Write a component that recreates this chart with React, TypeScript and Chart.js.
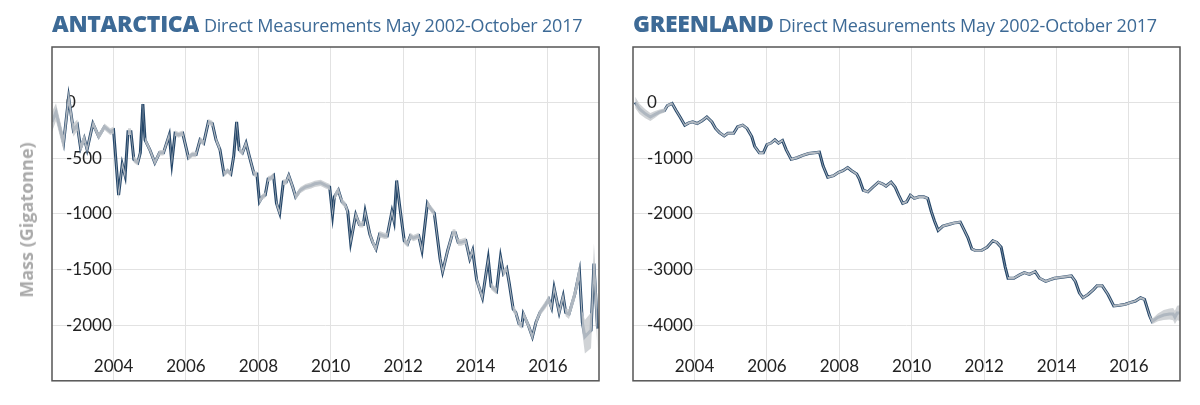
import React, { useEffect, useRef } from "react";
import { Chart, registerables } from "chart.js";
Chart.register(...registerables);

const antYears = [2002.30,2002.41,2002.62,2002.76,2002.89,2003.0,2003.09,2003.19,2003.27,2003.43,2003.59,2003.75,2003.91,2004.0,2004.14,2004.24,2004.32,2004.40,2004.48,2004.56,2004.67,2004.74,2004.81,2004.87,2005.0,2005.14,2005.27,2005.38,2005.54,2005.61,2005.70,2005.80,2005.91,2006.07,2006.17,2006.28,2006.39,2006.49,2006.62,2006.73,2006.83,2006.94,2007.05,2007.15,2007.24,2007.32,2007.40,2007.47,2007.56,2007.66,2007.75,2007.88,2007.96,2008.03,2008.11,2008.19,2008.27,2008.34,2008.42,2008.50,2008.59,2008.69,2008.77,2008.84,2008.95,2009.03,2009.16,2009.30,2009.46,2009.56,2009.72,2009.86,2009.97,2010.05,2010.10,2010.21,2010.31,2010.40,2010.47,2010.55,2010.69,2010.79,2010.90,2010.95,2011.08,2011.16,2011.25,2011.35,2011.48,2011.56,2011.69,2011.75,2011.82,2011.90,2012.03,2012.12,2012.20,2012.28,2012.43,2012.52,2012.67,2012.75,2012.86,2012.94,2013.02,2013.09,2013.23,2013.37,2013.44,2013.52,2013.60,2013.73,2013.84,2013.92,2014.03,2014.19,2014.35,2014.43,2014.58,2014.69,2014.77,2014.86,2014.93,2015.04,2015.11,2015.20,2015.28,2015.32,2015.46,2015.57,2015.67,2015.78,2015.94,2016.02,2016.10,2016.17,2016.31,2016.42,2016.49,2016.58,2016.74,2016.87,2016.95,2017.02,2017.19,2017.27,2017.37];
const antMass = [-175,-88,-365,44,-249,-205,-409,-322,-424,-190,-307,-219,-263,-249,-833,-556,-658,-263,-263,-512,-541,-453,-15,-336,-424,-541,-453,-453,-292,-541,-278,-292,-278,-497,-468,-468,-336,-366,-175,-190,-336,-424,-643,-614,-643,-482,-175,-424,-453,-366,-482,-643,-643,-892,-848,-833,-687,-681,-658,-906,-994,-716,-716,-658,-760,-848,-789,-760,-746,-731,-722,-746,-760,-1009,-848,-789,-892,-921,-980,-1257,-1009,-1096,-1096,-980,-1184,-1257,-1316,-1184,-1199,-1199,-980,-1067,-702,-921,-1243,-1272,-1199,-1219,-1199,-1330,-906,-950,-994,-1199,-1404,-1520,-1330,-1170,-1170,-1257,-1257,-1243,-1404,-1330,-1594,-1754,-1404,-1652,-1696,-1389,-1535,-1491,-1623,-1857,-1886,-1988,-2003,-1901,-2003,-2105,-1974,-1886,-1813,-1769,-1842,-1667,-1886,-1740,-1886,-1901,-1725,-1520,-1974,-2105,-2047,-1447,-2032];
const antErr = [90,80,70,70,60,50,40,40,30,30,30,30,30,30,40,30,30,30,30,30,25,25,25,25,25,25,25,25,25,25,25,25,25,25,25,25,25,25,25,25,25,25,25,25,25,25,25,25,25,25,25,25,25,25,25,25,25,25,25,25,25,25,25,25,28,28,28,28,28,28,28,28,28,28,28,28,28,28,28,28,28,28,28,28,28,28,28,28,28,28,28,28,28,28,28,28,28,28,28,28,30,30,30,30,30,30,30,30,30,30,30,30,30,30,30,30,30,30,30,30,30,30,30,30,30,30,30,30,30,30,30,30,35,35,35,35,35,35,35,45,55,75,100,150,160,180,200];

const grlYears = [2002.36,2002.48,2002.64,2002.78,2002.91,2003.03,2003.17,2003.25,2003.38,2003.49,2003.60,2003.73,2003.84,2003.95,2004.07,2004.20,2004.34,2004.48,2004.58,2004.69,2004.82,2004.92,2005.08,2005.19,2005.33,2005.45,2005.58,2005.66,2005.79,2005.90,2006.00,2006.11,2006.22,2006.32,2006.43,2006.53,2006.67,2006.83,2006.99,2007.15,2007.31,2007.45,2007.55,2007.68,2007.84,2007.98,2008.10,2008.23,2008.34,2008.48,2008.55,2008.66,2008.79,2008.93,2009.08,2009.19,2009.29,2009.43,2009.54,2009.64,2009.75,2009.86,2009.96,2010.07,2010.20,2010.33,2010.44,2010.54,2010.63,2010.73,2010.86,2011.02,2011.18,2011.34,2011.44,2011.55,2011.66,2011.76,2011.92,2012.08,2012.24,2012.35,2012.47,2012.58,2012.66,2012.82,2012.98,2013.11,2013.25,2013.41,2013.53,2013.70,2013.81,2013.94,2014.15,2014.41,2014.52,2014.63,2014.73,2014.87,2015.02,2015.12,2015.26,2015.42,2015.58,2015.74,2015.90,2016.03,2016.18,2016.32,2016.43,2016.57,2016.64,2016.80,2016.96,2017.12,2017.22,2017.27,2017.33,2017.41];
const grlMass = [0,-117,-205,-263,-216,-175,-146,-58,-18,-146,-263,-409,-368,-351,-380,-333,-263,-351,-468,-544,-602,-556,-556,-439,-409,-468,-614,-789,-906,-906,-760,-731,-673,-731,-684,-848,-1023,-994,-953,-918,-906,-895,-1140,-1345,-1316,-1257,-1228,-1170,-1228,-1287,-1374,-1579,-1608,-1520,-1433,-1462,-1503,-1433,-1520,-1667,-1813,-1784,-1667,-1725,-1696,-1696,-1725,-1959,-2135,-2298,-2222,-2193,-2164,-2152,-2281,-2427,-2632,-2661,-2661,-2602,-2485,-2515,-2602,-2953,-3158,-3158,-3099,-3058,-3088,-3041,-3158,-3216,-3187,-3158,-3140,-3117,-3216,-3421,-3509,-3450,-3363,-3292,-3292,-3450,-3655,-3643,-3626,-3596,-3567,-3509,-3538,-3830,-3936,-3860,-3819,-3801,-3801,-3860,-3784,-3784];
const grlErr = [100,90,80,70,60,45,35,25,20,20,20,20,20,20,20,20,20,20,20,20,20,20,20,20,20,20,20,20,20,20,20,20,20,20,20,20,20,20,20,20,20,20,20,20,20,20,20,20,20,20,20,20,20,20,20,20,20,20,20,20,20,20,20,20,20,20,20,20,20,20,20,20,20,20,20,20,20,20,20,20,20,20,20,20,20,20,20,20,20,20,20,20,20,20,20,20,20,20,20,20,20,20,20,20,20,20,20,20,20,20,20,30,50,70,90,100,110,120,130,140];

const antYTicks = [0, -500, -1000, -1500, -2000];
const grlYTicks = [0, -1000, -2000, -3000, -4000];
const xTicks = [2004, 2006, 2008, 2010, 2012, 2014, 2016];

const LINE = "#25476a";
const TITLE = "#3d6a96";

function Panel(props: { years: number[]; mass: number[]; err: number[]; yTicks: number[]; ymin: number; ymax: number; padLeft: number; padRight: number }) {
  const ref = useRef<HTMLCanvasElement>(null);
  useEffect(() => {
    const { years, mass, err, yTicks, ymin, ymax, padLeft, padRight } = props;
    const up = years.map((x, i) => ({ x, y: mass[i] + err[i] }));
    const lo = years.map((x, i) => ({ x, y: mass[i] - err[i] }));
    const mid = years.map((x, i) => ({ x, y: mass[i] }));
    const frame = {
      id: "frame",
      afterDraw(c: any) {
        const a = c.chartArea, ctx = c.ctx, xs = c.scales.x;
        ctx.save();
        ctx.strokeStyle = "#555";
        ctx.lineWidth = 1.5;
        ctx.strokeRect(a.left, a.top, a.right - a.left, a.bottom - a.top);
        ctx.fillStyle = "#222";
        ctx.font = "17px Lato";
        ctx.textAlign = "center";
        ctx.textBaseline = "middle";
        xTicks.forEach((v) => ctx.fillText(String(v), xs.getPixelForValue(v), a.bottom - 14));
        ctx.restore();
      },
    };
    const chart = new Chart(ref.current!, {
      type: "line",
      data: {
        datasets: [
          { data: up, borderWidth: 0, pointRadius: 0, fill: false, borderColor: "rgba(0,0,0,0)" },
          { data: lo, borderWidth: 0, pointRadius: 0, fill: "-1", backgroundColor: "rgba(200,203,207,0.85)", borderColor: "rgba(0,0,0,0)" },
          { data: mid, borderWidth: 3, pointRadius: 0, fill: false, borderColor: LINE, tension: 0 },
        ],
      },
      options: {
        animation: false,
        responsive: false,
        layout: { padding: { left: padLeft, right: padRight, top: 47, bottom: 14 } },
        plugins: { legend: { display: false }, tooltip: { enabled: false } },
        scales: {
          x: {
            type: "linear",
            min: 2002.3,
            max: 2017.41,
            afterBuildTicks: (s: any) => { s.ticks = xTicks.map((v) => ({ value: v })); },
            afterFit: (s: any) => { s.height = 0; },
            grid: { color: "#e2e2e2", drawTicks: false },
            border: { display: false },
            ticks: { display: false },
          },
          y: {
            min: ymin,
            max: ymax,
            afterBuildTicks: (s: any) => { s.ticks = yTicks.map((v) => ({ value: v })); },
            afterFit: (s: any) => { s.width = 0; },
            grid: { color: "#e2e2e2", drawTicks: false },
            border: { display: false },
            ticks: { mirror: true, padding: 14, color: "#222", font: { family: "Lato", size: 17 }, callback: (v: any) => String(v) },
          },
        },
      },
      plugins: [frame],
    });
    return () => chart.destroy();
  }, []);
  return <canvas ref={ref} width={600} height={405} style={{ display: "block" }} />;
}

function Title({ left, bold }: { left: number; bold: string }) {
  return (
    <div style={{ position: "absolute", left, top: 7, whiteSpace: "nowrap", color: TITLE, fontFamily: "'Open Sans', sans-serif" }}>
      <span style={{ fontWeight: 800, fontSize: 23, letterSpacing: -0.3 }}>{bold}</span>
      <span style={{ fontSize: 18, marginLeft: 5, letterSpacing: -0.2 }}>Direct Measurements May 2002-October 2017</span>
    </div>
  );
}

export default function App() {
  return (
    <div style={{ position: "fixed", left: 0, top: 0, width: 1200, height: 405, background: "#fff", overflow: "hidden" }}>
      <div style={{ position: "absolute", left: 0, top: 0 }}>
        <Panel years={antYears} mass={antMass} err={antErr} yTicks={antYTicks} ymin={-2500} ymax={497} padLeft={52} padRight={1} />
      </div>
      <div style={{ position: "absolute", left: 600, top: 0 }}>
        <Panel years={grlYears} mass={grlMass} err={grlErr} yTicks={grlYTicks} ymin={-5000} ymax={994} padLeft={33} padRight={20} />
      </div>
      <Title left={52} bold="ANTARCTICA" />
      <Title left={633} bold="GREENLAND" />
      <div style={{ position: "absolute", left: 26, top: 220, transform: "translate(-50%,-50%) rotate(-90deg)", whiteSpace: "nowrap", color: "#aaa", fontWeight: 700, fontSize: 18, fontFamily: "'Open Sans', sans-serif" }}>
        Mass (Gigatonne)
      </div>
    </div>
  );
}
